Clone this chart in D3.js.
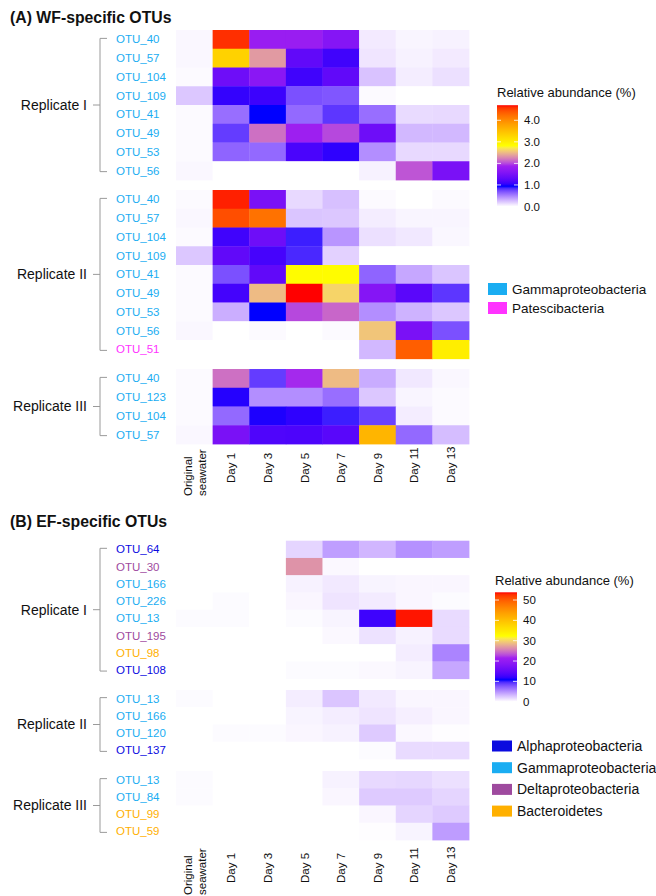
<!DOCTYPE html>
<html>
<head>
<meta charset="utf-8">
<script src="https://cdn.jsdelivr.net/npm/d3@7"></script>
<style>
  body { margin: 0; background: #fff; }
  svg { display: block; font-family: "Liberation Sans", Arial, sans-serif; }
</style>
</head>
<body>
<div id="wrapper"></div>
<script>
// colonnes (jours)
const days = ["Original seawater", "Day 1", "Day 3", "Day 5", "Day 7", "Day 9", "Day 11", "Day 13"];

// (A) WF-specific OTUs
const wfRep1Otus = ["OTU_40", "OTU_57", "OTU_104", "OTU_109", "OTU_41", "OTU_49", "OTU_53", "OTU_56"];
const wfRep1Taxa = ["Gamma", "Gamma", "Gamma", "Gamma", "Gamma", "Gamma", "Gamma", "Gamma"];
const wfRep1Values = [
  [0.03, 4.6, 1.8, 1.8, 1.6, 0.08, 0.04, 0.05],
  [0.03, 3.3, 2.35, 1.3, 1.1, 0.1, 0.05, 0.08],
  [0.02, 1.4, 1.65, 1.1, 1.3, 0.24, 0.07, 0.12],
  [0.22, 1.05, 1.08, 0.7, 0.68, 0.02, 0, 0],
  [0.02, 0.58, 0.94, 0.6, 0.8, 0.58, 0.14, 0.15],
  [0.02, 0.78, 2.16, 1.85, 2.0, 1.4, 0.28, 0.28],
  [0.02, 0.62, 0.6, 1.15, 1.03, 0.45, 0.15, 0.15],
  [0.03, 0, 0, 0, 0, 0.05, 2.05, 1.5]
];
const wfRep2Otus = ["OTU_40", "OTU_57", "OTU_104", "OTU_109", "OTU_41", "OTU_49", "OTU_53", "OTU_56", "OTU_51"];
const wfRep2Taxa = ["Gamma", "Gamma", "Gamma", "Gamma", "Gamma", "Gamma", "Gamma", "Gamma", "Patesci"];
const wfRep2Values = [
  [0.02, 4.65, 1.5, 0.15, 0.25, 0.02, 0, 0.02],
  [0.03, 4.45, 4.2, 0.23, 0.22, 0.07, 0.04, 0.04],
  [0.02, 1.1, 1.4, 0.88, 0.42, 0.12, 0.09, 0.03],
  [0.22, 1.3, 1.13, 0.85, 0.18, 0, 0, 0],
  [0.02, 0.7, 1.3, 2.85, 2.85, 0.62, 0.35, 0.23],
  [0.02, 1.12, 2.5, 4.7, 2.62, 1.6, 1.25, 0.8],
  [0.02, 0.32, 0.94, 2.0, 2.12, 0.45, 0.3, 0.22],
  [0.03, 0, 0.02, 0, 0.02, 2.55, 1.5, 0.7],
  [0, 0, 0, 0, 0, 0.28, 4.35, 3.0]
];
const wfRep3Otus = ["OTU_40", "OTU_123", "OTU_104", "OTU_57"];
const wfRep3Taxa = ["Gamma", "Gamma", "Gamma", "Gamma"];
const wfRep3Values = [
  [0.02, 2.16, 0.78, 1.9, 2.5, 0.33, 0.09, 0.03],
  [0.02, 1.0, 0.45, 0.45, 0.58, 0.22, 0.04, 0.02],
  [0.02, 0.6, 0.98, 1.03, 0.88, 0.76, 0.07, 0.02],
  [0.03, 1.5, 1.18, 1.17, 1.24, 3.6, 0.6, 0.26]
];
const wfMax = 4.7;
const wfTickValues = [0, 1, 2, 3, 4];
const wfTickLabels = ["0.0", "1.0", "2.0", "3.0", "4.0"];
const wfLegendTaxa = ["Gamma", "Patesci"];

// (B) EF-specific OTUs
const efRep1Otus = ["OTU_64", "OTU_30", "OTU_166", "OTU_226", "OTU_13", "OTU_195", "OTU_98", "OTU_108"];
const efRep1Taxa = ["Alpha", "Delta", "Gamma", "Gamma", "Gamma", "Delta", "Bacteroidetes", "Alpha"];
const efRep1Values = [
  [0, 0, 0, 1.9, 4.4, 3.3, 5.0, 4.4],
  [0, 0, 0, 26.5, 0.3, 0, 0, 0],
  [0, 0, 0, 0.6, 1.0, 0.5, 0.4, 0.4],
  [0, 0.2, 0, 0.4, 1.2, 0.9, 0.4, 0.2],
  [0.2, 0.2, 0, 0.2, 0.5, 12.5, 53.5, 1.6],
  [0, 0, 0, 0, 0.3, 1.3, 0.6, 1.6],
  [0, 0, 0, 0, 0, 0, 0.8, 5.6],
  [0, 0, 0, 0.2, 0.2, 0.3, 0.5, 4.0]
];
const efRep2Otus = ["OTU_13", "OTU_166", "OTU_120", "OTU_137"];
const efRep2Taxa = ["Gamma", "Gamma", "Gamma", "Alpha"];
const efRep2Values = [
  [0.2, 0, 0, 0.8, 2.6, 1.0, 0.4, 0.4],
  [0, 0, 0, 0.5, 0.8, 1.2, 0.7, 0.4],
  [0, 0.2, 0.2, 0.4, 0.6, 2.4, 0.3, 0.1],
  [0, 0, 0, 0, 0, 0.2, 1.6, 1.6]
];
const efRep3Otus = ["OTU_13", "OTU_84", "OTU_99", "OTU_59"];
const efRep3Taxa = ["Gamma", "Gamma", "Bacteroidetes", "Bacteroidetes"];
const efRep3Values = [
  [0.2, 0, 0, 0, 0.6, 1.7, 1.8, 1.4],
  [0.2, 0, 0, 0, 0.4, 2.4, 2.4, 1.9],
  [0, 0, 0, 0, 0, 0.4, 1.9, 2.4],
  [0, 0, 0, 0, 0, 0.1, 0.5, 4.5]
];
const efMax = 53.8;
const efTickValues = [0, 10, 20, 30, 40, 50];
const efTickLabels = ["0", "10", "20", "30", "40", "50"];
const efLegendTaxa = ["Alpha", "Gamma", "Delta", "Bacteroidetes"];

const replicateNames = ["Replicate I", "Replicate II", "Replicate III"];

const taxonNames = {
  Alpha: "Alphaproteobacteria",
  Gamma: "Gammaproteobacteria",
  Delta: "Deltaproteobacteria",
  Bacteroidetes: "Bacteroidetes",
  Patesci: "Patescibacteria"
};
const taxonColors = {
  Alpha: "#0b0bdf",
  Gamma: "#1aadf2",
  Delta: "#9e4a9e",
  Bacteroidetes: "#ffb000",
  Patesci: "#ff33ff"
};
const rampColors = ["#ffffff", "#0000ff", "#a020f0", "#ffff00", "#ffa500", "#ff0000"];

const svg = d3.select("#wrapper")
  .append("svg")
    .attr("width", 656)
    .attr("height", 896);
const defs = svg.append("defs");

const x = d3.scaleBand().domain(days).range([176, 469]);

function drawPanel(p) {
  const color = d3.scaleLinear()
    .domain(rampColors.map((c, i) => i / (rampColors.length - 1) * p.max))
    .range(rampColors)
    .interpolate(d3.interpolateLab)
    .clamp(true);

  svg.append("text")
    .attr("x", 10)
    .attr("y", p.titleY)
    .attr("font-size", 15.8)
    .attr("font-weight", "bold")
    .attr("fill", "#111")
    .text(p.title);

  p.groups.forEach((grp, gi) => {
    const y0 = p.groupTops[gi];
    const y = d3.scaleBand()
      .domain(d3.range(grp.otus.length))
      .range([y0, y0 + grp.otus.length * p.rowH]);
    const g = svg.append("g");

    // cellules
    const cells = [];
    grp.values.forEach((row, ri) => row.forEach((v, ci) => cells.push({ r: ri, day: days[ci], v: v })));
    g.selectAll("rect")
      .data(cells)
      .enter()
      .append("rect")
        .attr("x", d => x(d.day))
        .attr("y", d => y(d.r))
        .attr("width", x.bandwidth() + 0.4)
        .attr("height", y.bandwidth() + 0.4)
        .attr("fill", d => color(d.v));

    // OTU labels
    g.selectAll("text.otu")
      .data(grp.otus)
      .enter()
      .append("text")
        .attr("class", "otu")
        .attr("x", 116)
        .attr("y", (d, i) => y(i) + y.bandwidth() / 2)
        .attr("dy", "0.35em")
        .attr("font-size", 11.5)
        .attr("fill", (d, i) => taxonColors[grp.taxa[i]])
        .text(d => d);

    // accolade
    const top = y(0) + y.bandwidth() / 2 - 1;
    const bot = y(grp.otus.length - 1) + y.bandwidth() / 2 + 1;
    const mid = (y0 + y0 + grp.otus.length * p.rowH) / 2;
    g.append("path")
      .attr("d", `M107,${top}H100V${bot}H107M100,${mid}H93`)
      .attr("fill", "none")
      .attr("stroke", "#9a9a9a")
      .attr("stroke-width", 1);
    g.append("text")
      .attr("x", 87)
      .attr("y", mid)
      .attr("dy", "0.35em")
      .attr("text-anchor", "end")
      .attr("font-size", 14)
      .attr("fill", "#111")
      .text(grp.name);
  });

  // étiquettes x
  const xl = svg.append("g");
  days.forEach(d => {
    const cx = x(d) + x.bandwidth() / 2;
    const lines = d === "Original seawater" ? ["Original", "seawater"] : [d];
    const bottom = lines.length > 1 ? p.origBottom : p.dayBottom;
    const t = xl.append("text")
      .attr("transform", `translate(${cx},${bottom}) rotate(-90)`)
      .attr("font-size", 11.5)
      .attr("fill", "#111");
    if (lines.length > 1) {
      t.append("tspan").attr("x", 0).attr("y", -2.4).text(lines[0]);
      t.append("tspan").attr("x", 0).attr("y", 11.6).text(lines[1]);
    } else {
      t.attr("dy", "0.38em").text(d);
    }
  });

  // barre de couleur
  const bar = p.bar;
  const yBar = d3.scaleLinear().domain([0, p.max]).range([bar.zeroY, bar.topY]);
  const grad = defs.append("linearGradient")
    .attr("id", p.id)
    .attr("x1", 0).attr("y1", 1).attr("x2", 0).attr("y2", 0);
  grad.selectAll("stop")
    .data(d3.range(0, 1.0001, 0.02))
    .enter()
    .append("stop")
      .attr("offset", d => d)
      .attr("stop-color", d => color(d * p.max));
  svg.append("text")
    .attr("x", bar.x)
    .attr("y", bar.titleY)
    .attr("font-size", 13)
    .attr("fill", "#111")
    .text("Relative abundance (%)");
  svg.append("rect")
    .attr("x", bar.x)
    .attr("y", yBar(p.max))
    .attr("width", bar.w)
    .attr("height", yBar(0) - yBar(p.max))
    .attr("fill", `url(#${p.id})`);
  p.tickValues.forEach((v, i) => {
    svg.append("path")
      .attr("d", `M${bar.x},${yBar(v)}h4M${bar.x + bar.w - 4},${yBar(v)}h4`)
      .attr("stroke", "#fff")
      .attr("stroke-opacity", 0.8);
    svg.append("text")
      .attr("x", bar.x + bar.w + 6)
      .attr("y", yBar(v))
      .attr("dy", "0.35em")
      .attr("font-size", 11.5)
      .attr("fill", "#111")
      .text(p.tickLabels[i]);
  });

  // légende taxons
  const lg = p.legend;
  p.legendTaxa.forEach((tx, i) => {
    const ly = lg.top + i * lg.step;
    svg.append("rect")
      .attr("x", lg.x)
      .attr("y", ly)
      .attr("width", lg.w)
      .attr("height", lg.h)
      .attr("fill", taxonColors[tx]);
    svg.append("text")
      .attr("x", lg.x + lg.w + 5)
      .attr("y", ly + lg.h / 2)
      .attr("dy", "0.35em")
      .attr("font-size", lg.fs)
      .attr("fill", "#111")
      .text(taxonNames[tx]);
  });
}

drawPanel({
  id: "gradA",
  title: "(A) WF-specific OTUs",
  titleY: 23,
  groups: [
    { name: replicateNames[0], otus: wfRep1Otus, taxa: wfRep1Taxa, values: wfRep1Values },
    { name: replicateNames[1], otus: wfRep2Otus, taxa: wfRep2Taxa, values: wfRep2Values },
    { name: replicateNames[2], otus: wfRep3Otus, taxa: wfRep3Taxa, values: wfRep3Values }
  ],
  groupTops: [30, 190, 369],
  rowH: 18.75,
  max: wfMax,
  dayBottom: 483,
  origBottom: 496,
  tickValues: wfTickValues,
  tickLabels: wfTickLabels,
  bar: { x: 497, w: 21, zeroY: 206.5, topY: 105.2, titleY: 97 },
  legendTaxa: wfLegendTaxa,
  legend: { x: 488, top: 283, step: 19, w: 19, h: 12, fs: 13.5 }
});

drawPanel({
  id: "gradB",
  title: "(B) EF-specific OTUs",
  titleY: 527,
  groups: [
    { name: replicateNames[0], otus: efRep1Otus, taxa: efRep1Taxa, values: efRep1Values },
    { name: replicateNames[1], otus: efRep2Otus, taxa: efRep2Taxa, values: efRep2Values },
    { name: replicateNames[2], otus: efRep3Otus, taxa: efRep3Taxa, values: efRep3Values }
  ],
  groupTops: [540.7, 690, 771],
  rowH: 17.25,
  max: efMax,
  dayBottom: 883,
  origBottom: 895,
  tickValues: efTickValues,
  tickLabels: efTickLabels,
  bar: { x: 495, w: 22, zeroY: 701.7, topY: 592.3, titleY: 585 },
  legendTaxa: efLegendTaxa,
  legend: { x: 492, top: 740.5, step: 21.7, w: 20, h: 11, fs: 14 }
});
</script>
</body>
</html>
